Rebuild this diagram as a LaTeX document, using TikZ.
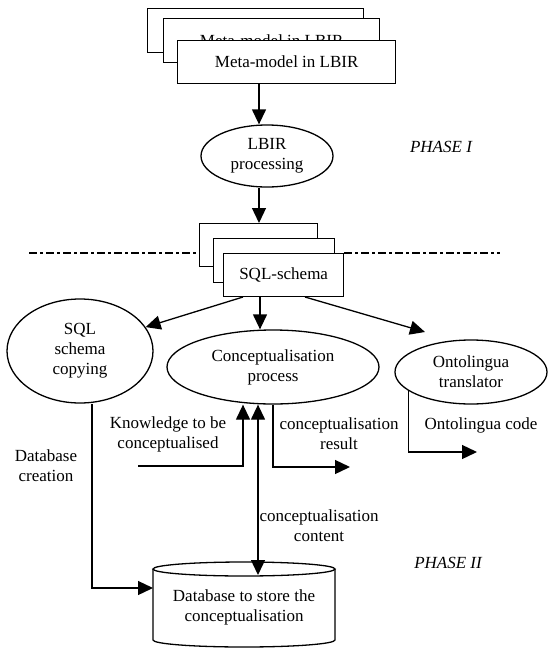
\documentclass[tikz,border=0pt]{standalone}
\usepackage{fontspec}
\setmainfont{Liberation Serif}
\usetikzlibrary{shapes.geometric,arrows.meta}

\tikzset{
  lbl/.style={font=\fontsize{17}{20}\selectfont, align=center, inner sep=0pt},
  phase/.style={font=\fontsize{17}{20}\selectfont\itshape, inner sep=0pt},
  box/.style={draw, fill=white, line width=1.3pt, lbl, anchor=north west},
  oval/.style={ellipse, draw, fill=white, line width=1.3pt, lbl},
  tip/.style={Triangle[length=15pt,width=14pt]},
  arr/.style={line width=1.3pt, -{Triangle[length=15pt,width=14pt]}},
  arrboth/.style={line width=1.3pt, {Triangle[length=15pt,width=14pt]}-{Triangle[length=15pt,width=14pt]}},
  phaseline/.style={line width=1.8pt, dash pattern=on 8pt off 3pt on 3pt off 3pt}
}

\begin{document}
\begin{tikzpicture}[x=1pt,y=-1pt]
\useasboundingbox (0,0) rectangle (548,648);

% stacked meta-model boxes
\node[box, minimum width=216pt, minimum height=44pt] (meta1) at (147,8) {Meta-model in LBIR};
\node[box, minimum width=216pt, minimum height=44pt] (meta2) at (163,18) {Meta-model in LBIR};
\node[box, minimum width=218pt, minimum height=43pt] (meta3) at (177,40) {Meta-model in LBIR};

% LBIR processing
\node[oval, minimum width=132pt, minimum height=62pt] (lbir) at (267,156) {LBIR\\processing};
\node[phase] (ph1) at (441,147) {PHASE I};

% stacked SQL-schema boxes (only the front one shows its title)
\node[box, minimum width=118pt, minimum height=43pt] (sql1) at (199,223) {};
\node[box, minimum width=121pt, minimum height=44pt] (sql2) at (213,238) {};
\node[box, minimum width=120pt, minimum height=43pt] (sql3) at (223,253) {SQL-schema};

% phase separator
\coordinate (sepA) at (29,253);
\coordinate (sepB) at (196,253);
\coordinate (sepC) at (500,253);
\draw[phaseline] (sepA) -- (sepB);
\draw[phaseline] (sql3.north east) -- (sepC);

% phase II processes
\node[oval, minimum width=146pt, minimum height=104pt] (copy) at (80,351) {SQL\\schema\\copying};
\node[oval, minimum width=212pt, minimum height=74pt] (conc) at (273,367) {Conceptualisation\\process};
\node[oval, minimum width=152pt, minimum height=64pt] (onto) at (471,372) {Ontolingua\\translator};

% database cylinder
\draw[line width=1.3pt, fill=white] (153,569) -- (153,640)
  arc[start angle=180, end angle=0, x radius=91, y radius=7] -- (335,569);
\draw[line width=1.3pt] (244,569) ellipse[x radius=91, y radius=7];
\node[lbl] (db) at (244,607) {Database to store the\\conceptualisation};

% helper coordinates
\coordinate (xa) at (259,0);
\coordinate (xc) at (260,0);
\coordinate (xk) at (243,0);
\coordinate (xm) at (258,0);
\coordinate (xr) at (273,0);
\coordinate (xd) at (92,0);
\coordinate (sqlL) at (243,297);
\coordinate (sqlR) at (305,297);
\coordinate (ontoTip) at (425,332);
\coordinate (kStart) at (138,466);
\coordinate (dbTop) at (258,575);
\coordinate (dbLeft) at (153,588);
\coordinate (resTip) at (350,467);
\coordinate (codeTip) at (477,452);

% phase I flow
\draw[arr] (meta3.south -| xa) -- (lbir.north -| xa);
\draw[arr] (lbir.south -| xa) -- (sql1.north -| xa);

% from SQL-schema
\draw[arr] (sqlL) -- (copy.20);
\draw[arr] (sql3.south -| xc) -- (conc.north -| xc);
\draw[arr] (sqlR) -- (ontoTip);

% inputs and outputs
\draw[arr] (kStart) -| (conc.south -| xk);
\draw[arrboth] (conc.south -| xm) -- (dbTop);
\draw[arr] (conc.south -| xr) |- (resTip);
\draw[arr] (onto.197) |- (codeTip);
\draw[arr] (copy.south -| xd) |- (dbLeft);

% labels
\node[lbl] (tDb) at (46,466) {Database\\creation};
\node[lbl] (tKn) at (168,434) {Knowledge to be\\conceptualised};
\node[lbl] (tRes) at (339,434) {conceptualisation\\result};
\node[lbl] (tCode) at (481,425) {Ontolingua code};
\node[lbl] (tCont) at (319,526) {conceptualisation\\content};
\node[phase] (ph2) at (448,563) {PHASE II};
\end{tikzpicture}
\end{document}
